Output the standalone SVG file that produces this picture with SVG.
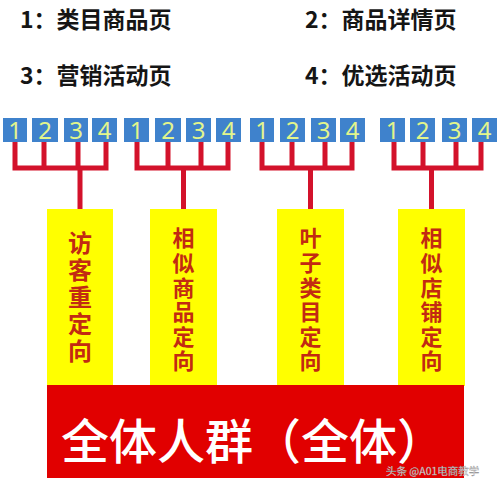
<svg xmlns="http://www.w3.org/2000/svg" width="500" height="482" viewBox="0 0 500 482">
<style>
.legend{font-family:"Noto Sans CJK SC","Noto Sans",sans-serif;font-size:23px;font-weight:700;fill:#151515;}
.num rect{fill:#3f82cc;}
.num text{font-family:"Noto Sans","Liberation Sans",sans-serif;font-size:24px;fill:#e2f58c;text-anchor:middle;}
.wire{stroke:#d3122b;stroke-width:5;fill:none;stroke-linecap:butt;}
.ybox{fill:#ffff00;}
.vtext{font-family:"Noto Sans CJK SC",sans-serif;font-weight:700;fill:#c22a12;writing-mode:vertical-rl;}
.big{font-family:"Noto Sans CJK SC",sans-serif;font-size:48px;font-weight:500;fill:#fff;text-anchor:middle;}
</style>
<rect width="500" height="482" fill="#fff"/>

<g id="legend">
<text class="legend" x="20" y="28">1：类目商品页</text>
<text class="legend" x="305" y="28">2：商品详情页</text>
<text class="legend" x="20" y="84">3：营销活动页</text>
<text class="legend" x="305" y="84">4：优选活动页</text>
</g>

<g id="connectors">
<path class="wire" d="M15 141V168M44 141V168M78 141V168M106 141V168M12.5 168H108.5M80 168V211"/>
<path class="wire" d="M137 141V168M168 141V168M201 141V168M228 141V168M134.5 168H230.5M183.5 168V211"/>
<path class="wire" d="M262 141V168M292 141V168M325 141V168M352 141V168M259.5 168H354.5M310.5 168V211"/>
<path class="wire" d="M394 141V168M423 141V168M456 141V168M481 141V168M391.5 168H483.5M431.5 168V211"/>
</g>

<g id="pages-1" class="num">
<rect x="3" y="118" width="24" height="24"/><text x="15" y="139">1</text>
<rect x="32" y="118" width="26" height="24"/><text x="45" y="139">2</text>
<rect x="64" y="118" width="24" height="24"/><text x="76" y="139">3</text>
<rect x="92" y="118" width="25" height="24"/><text x="104.5" y="139">4</text>
</g>
<g id="pages-2" class="num">
<rect x="124" y="118" width="25" height="24"/><text x="136.5" y="139">1</text>
<rect x="155" y="118" width="26" height="24"/><text x="168" y="139">2</text>
<rect x="186" y="118" width="25" height="24"/><text x="198.5" y="139">3</text>
<rect x="216" y="118" width="25" height="24"/><text x="228.5" y="139">4</text>
</g>
<g id="pages-3" class="num">
<rect x="250" y="118" width="24" height="24"/><text x="262" y="139">1</text>
<rect x="280" y="118" width="25" height="24"/><text x="292.5" y="139">2</text>
<rect x="311" y="118" width="25" height="24"/><text x="323.5" y="139">3</text>
<rect x="340" y="118" width="25" height="24"/><text x="352.5" y="139">4</text>
</g>
<g id="pages-4" class="num">
<rect x="380" y="118" width="25" height="24"/><text x="392.5" y="139">1</text>
<rect x="410" y="118" width="25" height="24"/><text x="422.5" y="139">2</text>
<rect x="442" y="118" width="25" height="24"/><text x="454.5" y="139">3</text>
<rect x="472" y="118" width="25" height="24"/><text x="484.5" y="139">4</text>
</g>

<g id="visitor-retarget">
<rect class="ybox" x="47" y="209" width="66" height="177"/>
<text class="vtext" font-size="24" letter-spacing="3" x="80" y="231">访客重定向</text>
</g>
<g id="similar-goods">
<rect class="ybox" x="150" y="209" width="67" height="177"/>
<text class="vtext" font-size="22" letter-spacing="2.6" x="183.5" y="227">相似商品定向</text>
</g>
<g id="leaf-category">
<rect class="ybox" x="277" y="209" width="67" height="177"/>
<text class="vtext" font-size="22" letter-spacing="2.6" x="310.5" y="227">叶子类目定向</text>
</g>
<g id="similar-shop">
<rect class="ybox" x="398" y="209" width="67" height="177"/>
<text class="vtext" font-size="22" letter-spacing="2.6" x="431.5" y="227">相似店铺定向</text>
</g>

<g id="all-people">
<rect x="47" y="385" width="417" height="93" fill="#e10000"/>
<text class="big" x="253" y="459">全体人群（全体）</text>
<text x="386" y="475" font-family="Noto Sans CJK SC,sans-serif" font-size="10.5" fill="#fff" stroke="#888" stroke-width="0.3" fill-opacity="0.9">头条 @A01电商教学</text>
</g>
</svg>
